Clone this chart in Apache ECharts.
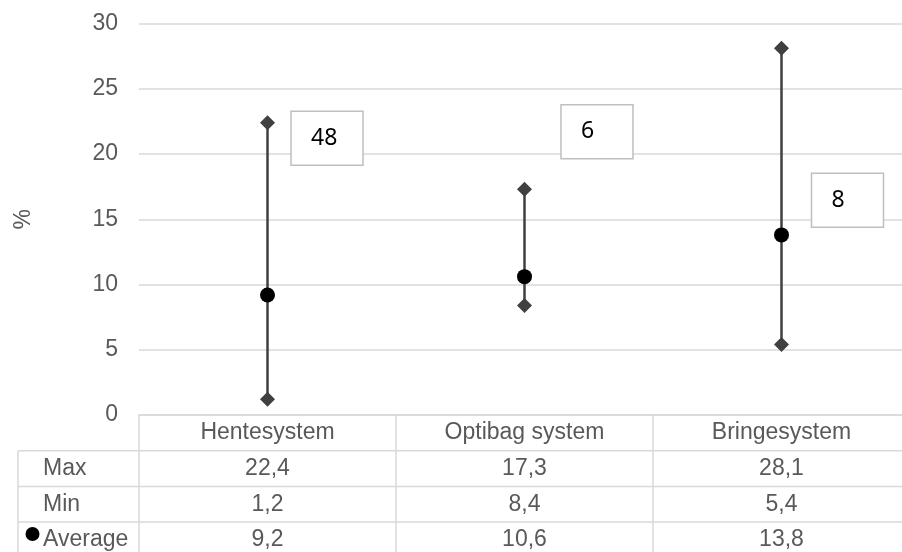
<!DOCTYPE html>
<html>
<head>
<meta charset="utf-8">
<script src="https://cdn.jsdelivr.net/npm/echarts@6/dist/echarts.min.js"></script>
<style>
  html, body { margin: 0; padding: 0; background: #fff; overflow: hidden; }
  #chart { width: 902px; height: 552px; }
</style>
</head>
<body>
<div id="chart"></div>
<script>
// Range per collection system (%), with the number of samples in each box
const categories = ['Hentesystem', 'Optibag system', 'Bringesystem'];
const maxVals = [22.4, 17.3, 28.1];
const minVals = [1.2, 8.4, 5.4];
const avgVals = [9.2, 10.6, 13.8];
const sampleCounts = [48, 6, 8];
const rowLabels = ['Max', 'Min', 'Average'];

// Placement of the count boxes: horizontal shift from the category centre (px)
// and vertical anchor on the value axis
const noteLayout = [
  { dx: 59.5, y: 21.2 },
  { dx: 72.5, y: 21.7 },
  { dx: 66, y: 16.45 }
];

const fmt = v => v.toFixed(1).replace('.', ',');

const GRID = { left: 139, top: 23.5, width: 771, height: 391.5 };
const ROW_H = 35.7;
const TEXT = '#595959';
const RULE = '#d9d9d9';
const FONT = '"Liberation Sans", Arial, sans-serif';
const FS = 23;

const chart = echarts.init(document.getElementById('chart'), null, { renderer: 'canvas' });

const option = {
  animation: false,
  backgroundColor: '#ffffff',
  grid: {
    left: GRID.left, top: GRID.top, width: GRID.width, height: GRID.height,
    containLabel: false, outerBoundsMode: 'none'
  },
  xAxis: {
    type: 'category',
    data: categories,
    boundaryGap: true,
    axisLine: { show: true, lineStyle: { color: RULE, width: 1.5 } },
    axisTick: { show: true, interval: 0, length: 142, lineStyle: { color: RULE, width: 1.5 } },
    axisLabel: {
      interval: 0,
      margin: 0,
      fontFamily: FONT,
      fontSize: FS,
      color: TEXT,
      lineHeight: ROW_H,
      verticalAlign: 'top',
      formatter: (v, i) => [v, fmt(maxVals[i]), fmt(minVals[i]), fmt(avgVals[i])].join('\n')
    },
    splitLine: { show: false }
  },
  yAxis: {
    type: 'value',
    min: 0,
    max: 30,
    interval: 5,
    name: '%',
    nameLocation: 'middle',
    nameGap: 104,
    nameRotate: 90,
    nameTextStyle: { fontFamily: FONT, fontSize: FS, color: TEXT },
    axisLine: { show: false },
    axisTick: { show: false },
    axisLabel: { margin: 21, fontFamily: FONT, fontSize: FS, color: TEXT },
    splitLine: { lineStyle: { color: RULE, width: 1.5 } }
  },
  series: [
    {
      // vertical range line from min to max
      type: 'custom',
      data: categories.map((c, i) => [i, minVals[i], maxVals[i]]),
      renderItem: (params, api) => {
        const p1 = api.coord([api.value(0), api.value(1)]);
        const p2 = api.coord([api.value(0), api.value(2)]);
        return {
          type: 'line',
          shape: { x1: p1[0], y1: p1[1], x2: p2[0], y2: p2[1] },
          style: { stroke: '#404040', lineWidth: 2.5 }
        };
      },
      z: 2
    },
    {
      name: 'Max',
      type: 'scatter',
      data: maxVals.map((v, i) => [i, v]),
      symbol: 'diamond',
      symbolSize: [15, 15],
      itemStyle: { color: '#404040', opacity: 1 },
      z: 3
    },
    {
      name: 'Min',
      type: 'scatter',
      data: minVals.map((v, i) => [i, v]),
      symbol: 'diamond',
      symbolSize: [15, 15],
      itemStyle: { color: '#404040', opacity: 1 },
      z: 3
    },
    {
      name: 'Average',
      type: 'scatter',
      data: avgVals.map((v, i) => [i, v]),
      symbol: 'circle',
      symbolSize: 15,
      itemStyle: { color: '#000000', opacity: 1 },
      z: 4
    }
  ]
};

chart.setOption(option);

// Data table frame and row headers below the plot
const bottom = GRID.top + GRID.height;
const right = GRID.left + GRID.width;
const tableLeft = 18;
const graphics = [];
for (let r = 1; r <= 3; r++) {
  const y = bottom + r * ROW_H;
  graphics.push({
    type: 'line', silent: true,
    shape: { x1: tableLeft, y1: y, x2: right, y2: y },
    style: { stroke: RULE, lineWidth: 1.5 }
  });
}
graphics.push({
  type: 'line', silent: true,
  shape: { x1: tableLeft, y1: bottom + ROW_H, x2: tableLeft, y2: 560 },
  style: { stroke: RULE, lineWidth: 1.5 }
});
rowLabels.forEach((label, r) => {
  graphics.push({
    type: 'text', silent: true,
    x: 43, y: bottom + (r + 1.5) * ROW_H,
    style: { text: label, font: FS + 'px ' + FONT, fill: TEXT, textAlign: 'left', textVerticalAlign: 'middle' }
  });
});
graphics.push({
  type: 'circle', silent: true,
  shape: { cx: 32.5, cy: bottom + 3.5 * ROW_H - 6, r: 7 },
  style: { fill: '#000000' }
});

// Sample count boxes
sampleCounts.forEach((n, i) => {
  const p = chart.convertToPixel({ xAxisIndex: 0, yAxisIndex: 0 }, [i, noteLayout[i].y]);
  const cx = p[0] + noteLayout[i].dx;
  const cy = p[1];
  graphics.push({
    type: 'rect', silent: true,
    shape: { x: cx - 36, y: cy - 27, width: 72, height: 54 },
    style: { fill: '#ffffff', stroke: '#bfbfbf', lineWidth: 1.5 },
    z: 10
  });
  graphics.push({
    type: 'text', silent: true,
    x: cx - 16, y: cy,
    style: { text: String(n), font: '23px "Noto Sans", "Open Sans", sans-serif', fill: '#000000', textAlign: 'left', textVerticalAlign: 'middle' },
    z: 11
  });
});

chart.setOption({ graphic: graphics });
</script>
</body>
</html>
